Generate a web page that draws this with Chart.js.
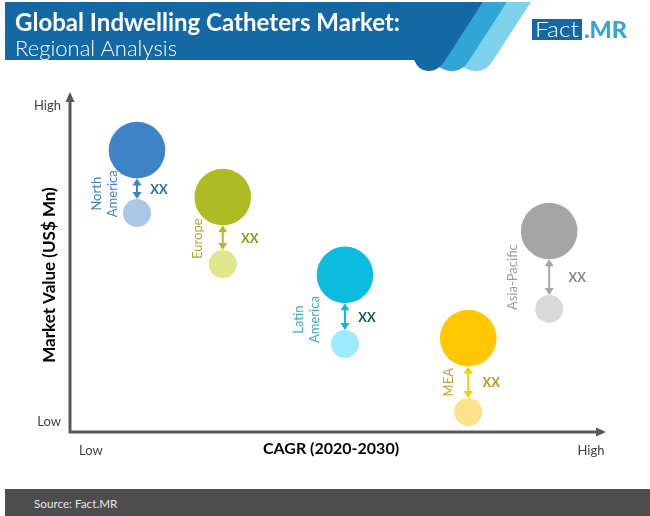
<!DOCTYPE html>
<html>
<head>
<meta charset="utf-8">
<title>Global Indwelling Catheters Market</title>
<script src="https://cdn.jsdelivr.net/npm/chart.js@4"></script>
<style>
    html, body { margin: 0; padding: 0; background: #fff; }
    #page { position: relative; width: 650px; height: 516px; overflow: hidden; }
    #chart-wrap { position: absolute; left: 0; top: 0; width: 650px; height: 516px; }
    #banner { position: absolute; left: 0; top: 0; }
    #footer {
        position: absolute; left: 5px; top: 489px; width: 645px; height: 27px;
        background: #4d4d4d; color: #e6e6e6;
        font: 11.7px Lato, sans-serif; line-height: 28px; padding-left: 29px; box-sizing: border-box;
    }
</style>
</head>
<body>
<div id="page">
    <div id="chart-wrap"><canvas id="regionChart" width="650" height="516"></canvas></div>
    <svg id="banner" width="650" height="80" xmlns="http://www.w3.org/2000/svg">
        <path fill="#7fd2ec" d="M507,2 L531,2 L492,62 Q486,71 476,71 Q468,71 462,66 Z"/>
        <path fill="#31a6d4" d="M483,2 L507,2 L468,62 Q462,71 452,71 Q444,71 438,66 Z"/>
        <path fill="#1468a4" d="M5,2 L483,2 L444,62 Q438,71 428,71 Q419,71 414,60 L5,60 Z"/>
        <text x="15" y="31" fill="#fff" font-family="Lato" font-weight="700" font-size="24" textLength="385" lengthAdjust="spacingAndGlyphs">Global Indwelling Catheters Market:</text>
        <text x="15" y="56" fill="#fff" font-family="Lato" font-weight="300" font-size="21" textLength="162" lengthAdjust="spacingAndGlyphs">Regional Analysis</text>
        <rect x="532" y="19" width="50" height="21" fill="#1468a4"/>
        <text x="535" y="37" fill="#fff" font-family="Lato" font-weight="300" font-size="22" textLength="44" lengthAdjust="spacingAndGlyphs">Fact</text>
        <text x="584" y="38" fill="#2fa8d8" font-family="Lato" font-weight="900" font-size="23" textLength="43" lengthAdjust="spacingAndGlyphs">.MR</text>
    </svg>
    <div id="footer">Source: Fact.MR</div>
</div>

<script>
// Data
const regions = ['North America', 'Europe', 'Latin America', 'MEA', 'Asia-Pacific'];
const cagrValues = [12.5, 28.5, 51.3, 74.3, 89.4];
const marketValueHigh = [82.9, 69.1, 46.2, 27.6, 59.1];
const marketValueLow = [64.4, 49.4, 25.9, 5.9, 36.2];
const gapLabel = 'XX';

const axisLabels = ['Low', 'High'];
const xTickValues = [3.9, 97.2];
const yTickValues = [2.9, 95.9];
const xAxisTitle = 'CAGR (2020-2030)';
const yAxisTitle = 'Market Value (US$ Mn)';

// Styles
const bigColors = ['#3d83c6', '#afbb22', '#0cbcdf', '#ffc800', '#a5a5a5'];
const smallColors = ['#a9c8e8', '#e0e68c', '#9eebff', '#ffe38a', '#d9d9d9'];
const nameColors = ['#3f7fbf', '#a3af2a', '#3aa9c6', '#c9a227', '#9a9a9a'];
const gapColors = ['#2f6da8', '#8b9a1e', '#0e5a70', '#bd9a1a', '#8a8a8a'];
const BIG_RADIUS = 28.3;
const SMALL_RADIUS = 14;
const AXIS_COLOR = '#595959';

// Label placement relative to each bubble column
const nameLines = [['North', 'America'], ['Europe'], ['Latin', 'America'], ['MEA'], ['Asia-Pacific']];
const nameOffsets = [[-40, -24], [-25], [-46, -30], [-19], [-36]];
const nameShiftY = [5, 1, 3, 0, 0];
const gapOffsets = [22, 27, 22, 23, 28];

function toPoints(values) {
    return values.map((v, i) => ({ x: cagrValues[i], y: v }));
}

function drawArrowHead(ctx, x, y, dir) {
    ctx.beginPath();
    ctx.moveTo(x, y);
    ctx.lineTo(x - 4.5, y - dir * 7);
    ctx.lineTo(x + 4.5, y - dir * 7);
    ctx.closePath();
    ctx.fill();
}

// Axis lines with arrows, and the axis titles
const axesPlugin = {
    id: 'axesPlugin',
    afterDraw(chart) {
        const { ctx, chartArea } = chart;
        const { left, right, top, bottom } = chartArea;
        ctx.save();
        ctx.strokeStyle = AXIS_COLOR;
        ctx.fillStyle = AXIS_COLOR;
        ctx.lineWidth = 3;
        ctx.beginPath();
        ctx.moveTo(left, top + 8);
        ctx.lineTo(left, bottom);
        ctx.lineTo(right - 8, bottom);
        ctx.stroke();

        ctx.beginPath();
        ctx.moveTo(left, top);
        ctx.lineTo(left - 4.5, top + 10);
        ctx.lineTo(left + 4.5, top + 10);
        ctx.closePath();
        ctx.fill();
        ctx.beginPath();
        ctx.moveTo(right, bottom);
        ctx.lineTo(right - 10, bottom - 4.5);
        ctx.lineTo(right - 10, bottom + 4.5);
        ctx.closePath();
        ctx.fill();

        ctx.fillStyle = '#000';
        ctx.textAlign = 'center';
        ctx.textBaseline = 'middle';
        ctx.font = 'bold 16px Lato';
        ctx.fillText(xAxisTitle, 331, bottom + 17);
        ctx.font = 'bold 17px Lato';
        ctx.translate(left - 20, 275);
        ctx.rotate(-Math.PI / 2);
        ctx.fillText(yAxisTitle, 0, 0);
        ctx.restore();
    }
};

// Double arrows between the bubble pairs, region names and XX labels
const labelsPlugin = {
    id: 'labelsPlugin',
    afterDatasetsDraw(chart) {
        const { ctx, scales } = chart;
        ctx.save();
        regions.forEach((region, i) => {
            const x = scales.x.getPixelForValue(cagrValues[i]);
            const yTop = scales.y.getPixelForValue(marketValueHigh[i]) + BIG_RADIUS;
            const yBottom = scales.y.getPixelForValue(marketValueLow[i]) - SMALL_RADIUS;
            const mid = (yTop + yBottom) / 2;

            ctx.strokeStyle = bigColors[i];
            ctx.fillStyle = bigColors[i];
            ctx.lineWidth = 2;
            ctx.beginPath();
            ctx.moveTo(x, yTop + 4);
            ctx.lineTo(x, yBottom - 4);
            ctx.stroke();
            drawArrowHead(ctx, x, yTop, -1);
            drawArrowHead(ctx, x, yBottom, 1);

            ctx.fillStyle = gapColors[i];
            ctx.font = 'bold 13px Lato';
            ctx.textAlign = 'center';
            ctx.textBaseline = 'middle';
            ctx.fillText(gapLabel, x + gapOffsets[i], mid + 1);

            ctx.fillStyle = nameColors[i];
            ctx.font = '13px Lato';
            nameLines[i].forEach((line, n) => {
                ctx.save();
                ctx.translate(x + nameOffsets[i][n], mid + nameShiftY[i]);
                ctx.rotate(-Math.PI / 2);
                ctx.fillText(line, 0, 0);
                ctx.restore();
            });
        });
        ctx.restore();
    }
};

new Chart(document.getElementById('regionChart'), {
    type: 'bubble',
    data: {
        datasets: [
            {
                label: 'Market value, high',
                data: toPoints(marketValueHigh),
                backgroundColor: bigColors,
                borderWidth: 0,
                radius: BIG_RADIUS
            },
            {
                label: 'Market value, low',
                data: toPoints(marketValueLow),
                backgroundColor: smallColors,
                borderWidth: 0,
                radius: SMALL_RADIUS
            }
        ]
    },
    plugins: [axesPlugin, labelsPlugin],
    options: {
        responsive: false,
        animation: false,
        layout: { padding: { top: 92, right: 44 } },
        plugins: { legend: { display: false }, tooltip: { enabled: false } },
        scales: {
            x: {
                type: 'linear',
                min: 0,
                max: 100,
                border: { display: false },
                grid: { display: false, drawTicks: false },
                afterFit(scale) { scale.height = 84; },
                afterBuildTicks(scale) { scale.ticks = xTickValues.map(value => ({ value })); },
                ticks: {
                    autoSkip: false,
                    maxRotation: 0,
                    padding: 11,
                    color: '#404040',
                    font: { family: 'Lato', size: 13 },
                    callback: value => axisLabels[xTickValues.indexOf(value)]
                }
            },
            y: {
                type: 'linear',
                min: 0,
                max: 100,
                border: { display: false },
                grid: { display: false, drawTicks: false },
                afterFit(scale) { scale.width = 70; },
                afterBuildTicks(scale) { scale.ticks = yTickValues.map(value => ({ value })); },
                ticks: {
                    autoSkip: false,
                    padding: 9,
                    color: '#404040',
                    font: { family: 'Lato', size: 13 },
                    callback: value => axisLabels[yTickValues.indexOf(value)]
                }
            }
        }
    }
});
</script>
</body>
</html>
